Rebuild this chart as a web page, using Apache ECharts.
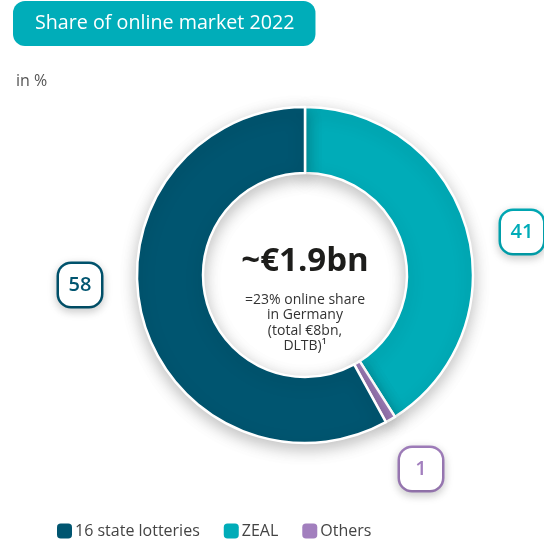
<!DOCTYPE html>
<html>
<head>
<meta charset="utf-8">
<script src="https://cdn.jsdelivr.net/npm/echarts@6/dist/echarts.min.js"></script>
<style>
  html, body { margin: 0; padding: 0; background: #fff; }
  #chart { width: 544px; height: 542px; }
</style>
</head>
<body>
<div id="chart"></div>
<script>
// pie slices, clockwise from 12 o'clock
var categories = ['ZEAL', 'Others', '16 state lotteries'];
var shares = [41, 1, 58];
var legendOrder = ['16 state lotteries', 'ZEAL', 'Others'];
var sliceColors = ['#00acb8', '#a27fbe', '#005570'];

var titleText = 'Share of online market 2022';
var unitText = 'in %';
var centerValue = '~€1.9bn';
var centerNote = ['=23% online share', 'in Germany', '(total €8bn,', 'DLTB)¹'];

// where the value boxes sit, per slice
var labelSpots = [[522, 232], [421, 469], [80, 285]];

var fontFamily = '"Open Sans", "Noto Sans", sans-serif';

var chart = echarts.init(document.getElementById('chart'));

var pieData = categories.map(function (name, i) {
    return {
        name: name,
        value: shares[i],
        itemStyle: { color: sliceColors[i] },
        label: {
            color: sliceColors[i],
            borderColor: sliceColors[i]
        }
    };
});

var option = {
    backgroundColor: '#fff',
    animation: false,
    title: [
        {
            text: titleText,
            left: 13,
            top: 1,
            backgroundColor: '#00adb9',
            borderRadius: 12,
            padding: [10, 21, 10, 22],
            textStyle: {
                color: '#fff',
                fontSize: 19.7,
                fontWeight: 'normal',
                fontFamily: fontFamily,
                lineHeight: 25
            }
        },
        {
            text: unitText,
            left: 11,
            top: 68,
            textStyle: {
                color: '#555',
                fontSize: 16,
                fontWeight: 'normal',
                fontFamily: fontFamily
            }
        }
    ],
    legend: {
        data: legendOrder,
        left: 52,
        top: 518,
        icon: 'roundRect',
        itemWidth: 15,
        itemHeight: 15,
        itemGap: 24,
        itemStyle: { borderWidth: 0, shadowBlur: 0 },
        textStyle: {
            color: '#444',
            fontSize: 16,
            fontFamily: fontFamily,
            padding: [0, 0, 0, -2]
        }
    },
    graphic: [
        {
            type: 'text',
            x: 305,
            y: 245,
            style: {
                text: centerValue,
                fill: '#1d1d1b',
                font: 'bold 33px ' + fontFamily,
                textAlign: 'center'
            },
            z: 100
        },
        {
            type: 'text',
            x: 305,
            y: 292,
            style: {
                text: centerNote.join('\n'),
                fill: '#333',
                font: '14px ' + fontFamily,
                lineHeight: 15.5,
                textAlign: 'center'
            },
            z: 100
        }
    ],
    series: [
        {
            name: 'share',
            type: 'pie',
            center: [305, 275],
            radius: [102, 168],
            startAngle: 90,
            clockwise: true,
            silent: true,
            itemStyle: {
                borderColor: '#fff',
                borderWidth: 2.5,
                shadowBlur: 16,
                shadowOffsetY: 5,
                shadowColor: 'rgba(0,0,0,0.25)'
            },
            label: {
                show: true,
                position: 'outside',
                formatter: '{c}',
                fontSize: 20,
                fontFamily: fontFamily,
                fontWeight: 600,
                backgroundColor: '#fff',
                borderWidth: 2.5,
                borderRadius: 12,
                width: 42,
                height: 42,
                lineHeight: 42,
                align: 'center',
                shadowBlur: 10,
                shadowOffsetY: 3,
                shadowColor: 'rgba(0,0,0,0.18)'
            },
            labelLine: { show: false },
            labelLayout: function (params) {
                var spot = labelSpots[params.dataIndex];
                return {
                    x: spot[0],
                    y: spot[1],
                    align: 'center',
                    verticalAlign: 'middle'
                };
            },
            data: pieData
        }
    ]
};

chart.setOption(option);
</script>
</body>
</html>
